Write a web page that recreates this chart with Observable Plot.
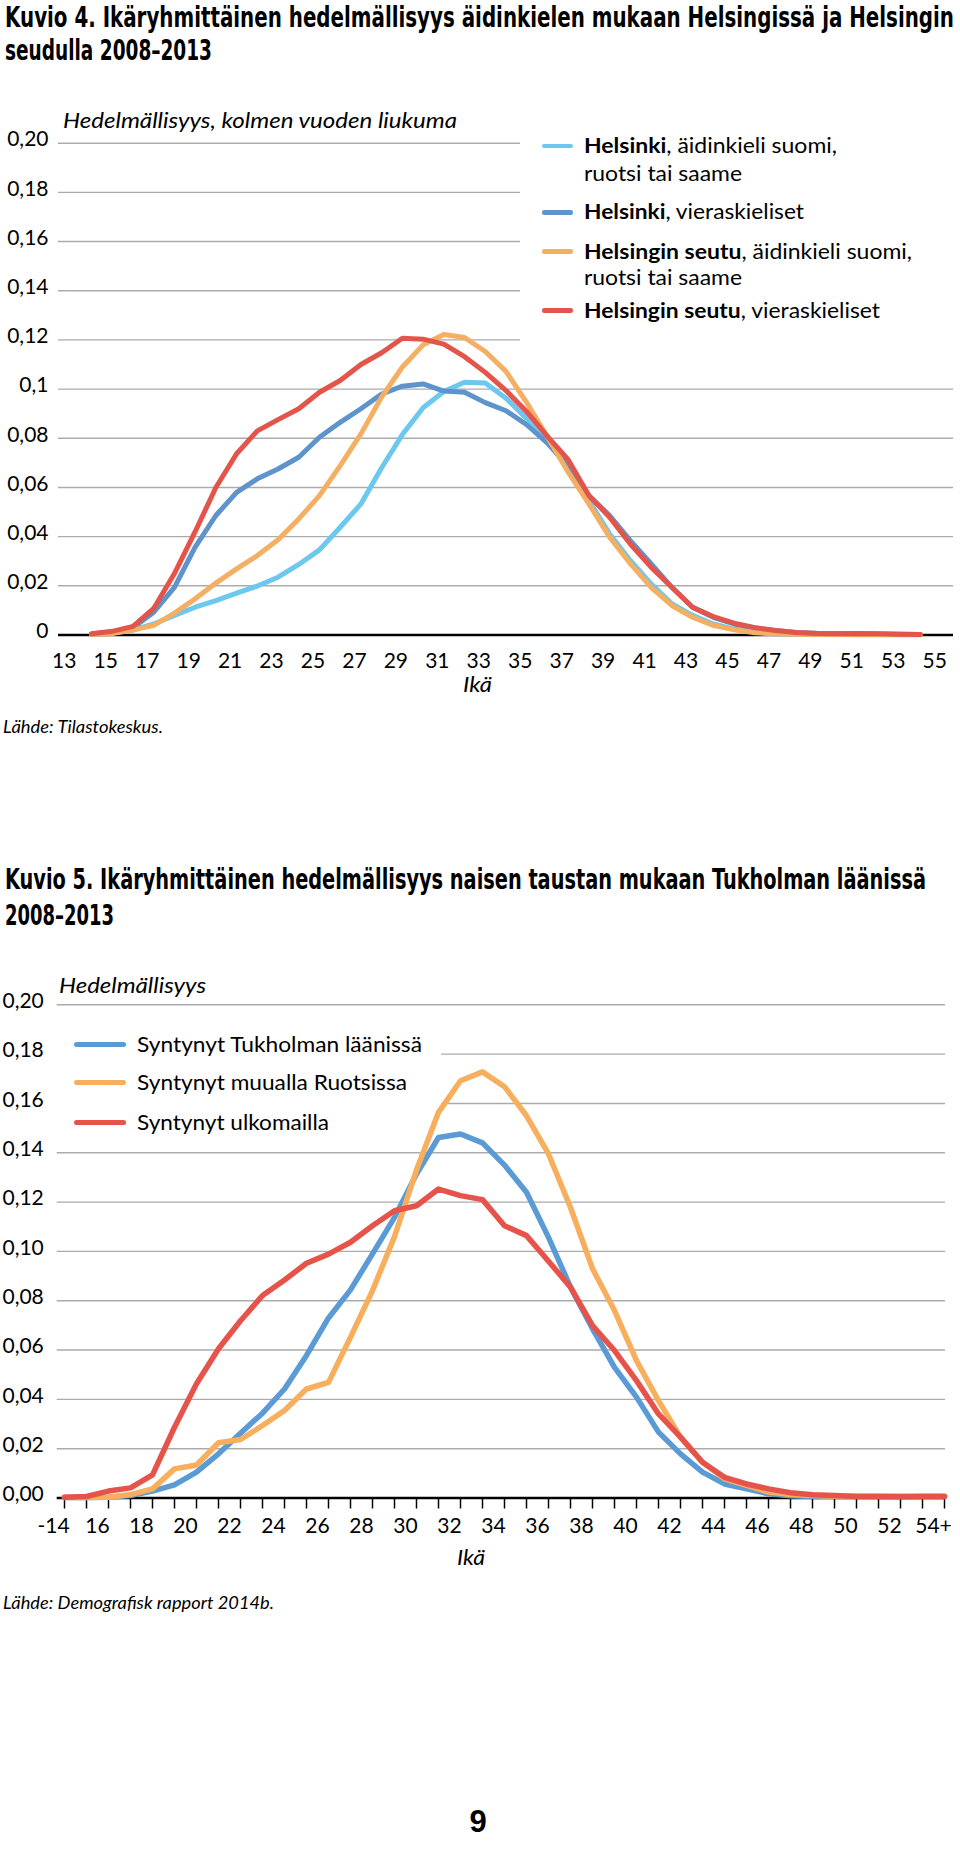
<!DOCTYPE html>
<html>
<head>
<meta charset="utf-8">
<script src="https://cdn.jsdelivr.net/npm/d3@7"></script>
<script src="https://cdn.jsdelivr.net/npm/@observablehq/plot@0.6"></script>
<style>
  html, body { margin: 0; padding: 0; background: #fff; }
  #page { position: relative; width: 960px; height: 1854px; overflow: hidden; background: #fff; }
  .layer { position: absolute; left: 0; }
</style>
</head>
<body>
<div id="page"></div>
<script>
// ---------------- DATA: Kuvio 4 ----------------
const ages1 = [14,15,16,17,18,19,20,21,22,23,24,25,26,27,28,29,30,31,32,33,34,35,36,37,38,39,40,41,42,43,44,45,46,47,48,49,50,51,52,53,54];
const helsinkiNative = [0.0003,0.0008,0.002,0.0045,0.008,0.0113,0.014,0.017,0.0199,0.0235,0.0287,0.0346,0.0438,0.0533,0.068,0.0815,0.0924,0.099,0.1028,0.1025,0.0963,0.088,0.080,0.068,0.0547,0.0411,0.0303,0.0208,0.0127,0.008,0.0045,0.0024,0.0013,0.0006,0.0003,0.0002,0.0002,0.0001,0.0001,0.0001,0.0001];
const helsinkiForeign = [0.0004,0.0012,0.003,0.0093,0.0194,0.0357,0.0486,0.058,0.0635,0.0675,0.0723,0.0804,0.0865,0.092,0.098,0.1012,0.1021,0.0992,0.0987,0.0945,0.0912,0.0855,0.078,0.0686,0.0567,0.0486,0.0384,0.029,0.0194,0.0113,0.0072,0.0045,0.003,0.0018,0.001,0.0007,0.0006,0.0005,0.0004,0.0003,0.0002];
const regionNative = [0.0002,0.0006,0.002,0.0039,0.0089,0.0147,0.0211,0.0269,0.0323,0.0387,0.0472,0.0567,0.0689,0.0818,0.0968,0.109,0.118,0.1222,0.121,0.1153,0.1072,0.0945,0.0805,0.0662,0.0533,0.0398,0.029,0.0194,0.012,0.0072,0.0039,0.0021,0.0009,0.0005,0.0003,0.0002,0.0002,0.0002,0.0002,0.0002,0.0002];
const regionForeign = [0.0005,0.0015,0.0035,0.0108,0.025,0.042,0.060,0.0737,0.083,0.0876,0.092,0.0987,0.1035,0.110,0.1148,0.1207,0.1203,0.1183,0.1132,0.1068,0.0994,0.0908,0.0808,0.0713,0.0567,0.0479,0.037,0.0276,0.0194,0.0113,0.0075,0.0048,0.003,0.0018,0.001,0.0006,0.0005,0.0006,0.0005,0.0003,0.0002];
const series1Names = ["Helsinki, äidinkieli suomi, ruotsi tai saame","Helsinki, vieraskieliset","Helsingin seutu, äidinkieli suomi, ruotsi tai saame","Helsingin seutu, vieraskieliset"];
const series1Colors = ["#6CC8EF","#5E93CB","#F5AF62","#E3544B"];
const y1Ticks = [0,0.02,0.04,0.06,0.08,0.1,0.12,0.14,0.16,0.18,0.2];
const y1Labels = ["0","0,02","0,04","0,06","0,08","0,1","0,12","0,14","0,16","0,18","0,20"];
const x1Ticks = [13,15,17,19,21,23,25,27,29,31,33,35,37,39,41,43,45,47,49,51,53,55];

// ---------------- DATA: Kuvio 5 ----------------
const ages2 = [14,15,16,17,18,19,20,21,22,23,24,25,26,27,28,29,30,31,32,33,34,35,36,37,38,39,40,41,42,43,44,45,46,47,48,49,50,51,52,53,54];
const bornStockholm = [0.0002,0.0002,0.0003,0.001,0.0028,0.0053,0.0105,0.0179,0.0263,0.0344,0.0442,0.0578,0.073,0.0844,0.099,0.1138,0.1314,0.1462,0.1476,0.144,0.135,0.124,0.1057,0.0855,0.0686,0.053,0.0409,0.0267,0.0179,0.0105,0.0057,0.0037,0.0017,0.0009,0.0006,0.0006,0.0006,0.0006,0.0006,0.0006,0.0006];
const bornSweden = [0.0002,0.0002,0.0003,0.0014,0.0037,0.0118,0.0134,0.0224,0.0237,0.0294,0.0355,0.0442,0.0469,0.0652,0.0841,0.106,0.133,0.1564,0.1692,0.1728,0.1668,0.155,0.1395,0.1178,0.093,0.076,0.0557,0.0395,0.0247,0.0145,0.0078,0.0051,0.0024,0.0014,0.001,0.0007,0.0007,0.0007,0.0007,0.0007,0.0007];
const bornAbroad = [0.0003,0.0006,0.0028,0.0041,0.0094,0.0287,0.0463,0.0605,0.0719,0.0821,0.0884,0.0952,0.0989,0.1037,0.1104,0.1165,0.1185,0.1253,0.1226,0.121,0.1104,0.1064,0.096,0.0855,0.0699,0.0598,0.0476,0.0341,0.0247,0.0145,0.0084,0.0057,0.0037,0.0021,0.0013,0.001,0.0006,0.0006,0.0005,0.0006,0.0006];
const series2Names = ["Syntynyt Tukholman läänissä","Syntynyt muualla Ruotsissa","Syntynyt ulkomailla"];
const series2Colors = ["#5B9BD5","#F7AF5E","#E6534A"];
const y2Ticks = [0,0.02,0.04,0.06,0.08,0.1,0.12,0.14,0.16,0.18,0.2];
const y2Labels = ["0,00","0,02","0,04","0,06","0,08","0,10","0,12","0,14","0,16","0,18","0,20"];
const x2LabelTicks = [14,16,18,20,22,24,26,28,30,32,34,36,38,40,42,44,46,48,50,52,54];
const x2Labels = ["-14","16","18","20","22","24","26","28","30","32","34","36","38","40","42","44","46","48","50","52","54+"];

// ---------------- build tables ----------------
const rows1 = [];
[helsinkiNative, helsinkiForeign, regionNative, regionForeign].forEach((arr, k) =>
  arr.forEach((v, i) => rows1.push({s: series1Names[k], age: ages1[i], v})));
const rows2 = [];
[bornStockholm, bornSweden, bornAbroad].forEach((arr, k) =>
  arr.forEach((v, i) => rows2.push({s: series2Names[k], age: ages2[i], v})));
const lab1 = new Map(y1Ticks.map((t, i) => [t, y1Labels[i]]));
const lab2 = new Map(y2Ticks.map((t, i) => [t, y2Labels[i]]));
const labX2 = new Map(x2LabelTicks.map((t, i) => [t, x2Labels[i]]));

const page = document.getElementById("page");
const FONT = "Lato, 'Open Sans', sans-serif";

function addLayer(svg, top, z) {
  svg.classList.add("layer");
  svg.style.top = top + "px";
  svg.style.zIndex = z;
  page.appendChild(svg);
}

// ---------------- Chart 1 ----------------
const c1 = {width: 960, height: 600, marginTop: 42.7, marginBottom: 65.5, marginLeft: 58, marginRight: 7};
const x1 = {type: "linear", domain: [13, 55], range: [70.3, 940.7]};
const yS1 = {domain: [0, 0.2], range: [534.5, 42.7]};

const grid1 = Plot.plot({
  ...c1, x: {...x1, axis: null}, y: {...yS1, axis: null},
  style: {background: "white", fontFamily: FONT},
  marks: [Plot.ruleY(y1Ticks.filter(t => t > 0), {stroke: "#ABABAB", strokeWidth: 1.4})]
});
addLayer(grid1, 100, 1);

const main1 = Plot.plot({
  ...c1, x: x1, y: yS1,
  color: {domain: series1Names, range: series1Colors},
  style: {background: "transparent", fontFamily: FONT, fontSize: "21px", color: "#000"},
  marks: [
    Plot.axisY({ticks: y1Ticks, tickFormat: d => lab1.get(d), tickSize: 0, tickPadding: 10, fontSize: 21, dy: -3.5, label: null}),
    Plot.axisX({ticks: x1Ticks, tickFormat: d => String(d), tickSize: 0, tickPadding: 18.5, fontSize: 21, dx: -6.5, label: null}),
    Plot.ruleY([0], {stroke: "#000", strokeWidth: 2.3}),
    Plot.line(rows1, {x: "age", y: "v", z: "s", stroke: "s", strokeWidth: 5, strokeLinecap: "round", strokeLinejoin: "round"})
  ]
});
addLayer(main1, 100, 3);

// ---------------- Chart 2 ----------------
const c2 = {width: 960, height: 600, marginTop: 44.3, marginBottom: 62.5, marginLeft: 56.7, marginRight: 15};
const x2 = {type: "linear", domain: [14, 54], range: [64, 944]};
const yS2 = {domain: [0, 0.2], range: [537.5, 44.3]};

const grid2 = Plot.plot({
  ...c2, x: {...x2, axis: null}, y: {...yS2, axis: null},
  style: {background: "white", fontFamily: FONT},
  marks: [Plot.ruleY(y2Ticks.filter(t => t > 0), {stroke: "#ABABAB", strokeWidth: 1.4})]
});
addLayer(grid2, 960, 1);

const main2 = Plot.plot({
  ...c2, x: x2, y: yS2,
  color: {domain: series2Names, range: series2Colors},
  style: {background: "transparent", fontFamily: FONT, fontSize: "21px", color: "#000"},
  marks: [
    Plot.axisY({ticks: y2Ticks, tickFormat: d => lab2.get(d), tickSize: 0, tickPadding: 13.4, fontSize: 21, dy: -3.5, label: null}),
    Plot.axisX({ticks: ages2, tickFormat: () => "", tickSize: 11, stroke: "#000", strokeWidth: 1.5, label: null}),
    Plot.axisX({ticks: x2LabelTicks, tickFormat: d => labX2.get(d), tickSize: 0, tickPadding: 20.5, fontSize: 21, dx: -11, label: null}),
    Plot.ruleY([0], {stroke: "#000", strokeWidth: 2.3}),
    Plot.line(rows2, {x: "age", y: "v", z: "s", stroke: "s", strokeWidth: 5.5, strokeLinecap: "round", strokeLinejoin: "round"})
  ]
});
addLayer(main2, 960, 3);

// ---------------- legend masks (between grid and lines) ----------------
function mask(left, top, w, h) {
  const d = document.createElement("div");
  Object.assign(d.style, {position: "absolute", left: left + "px", top: top + "px", width: w + "px", height: h + "px", background: "#fff", zIndex: 2});
  page.appendChild(d);
}
mask(520, 132, 440, 215);
mask(50, 1022, 391, 118);

function swatch(x0, x1_, cy, h, color) {
  const d = document.createElement("div");
  Object.assign(d.style, {position: "absolute", left: x0 + "px", top: (cy - h / 2) + "px", width: (x1_ - x0) + "px", height: h + "px", background: color, borderRadius: (h / 2) + "px", zIndex: 4});
  page.appendChild(d);
}

// ---------------- text helper (baseline-positioned, width-fitted) ----------------
function put(html, o) {
  const d = document.createElement("div");
  Object.assign(d.style, {
    position: "absolute", left: "0px", top: "0px", whiteSpace: "nowrap",
    fontFamily: o.font || FONT, fontSize: o.size + "px",
    fontWeight: o.weight || "normal", fontStyle: o.italic ? "italic" : "normal",
    lineHeight: o.lh || "1.2", color: "#000", zIndex: 5
  });
  d.innerHTML = html;
  const m = document.createElement("span");
  Object.assign(m.style, {display: "inline-block", width: "0px", height: "0px"});
  d.appendChild(m);
  page.appendChild(d);
  const r = d.getBoundingClientRect();
  const w = r.width;
  const bl = m.getBoundingClientRect().top - r.top;
  const sx = o.width ? o.width / w : 1;
  let left = o.x;
  if (o.anchor === "middle") left = o.x - (w * sx) / 2;
  d.style.left = left + "px";
  d.style.top = (o.baseline - bl) + "px";
  if (sx !== 1) { d.style.transformOrigin = "0 0"; d.style.transform = `scaleX(${sx})`; }
  return d;
}

const TITLE = "'Liberation Sans Narrow', 'Arial Narrow', 'DejaVu Sans Condensed', sans-serif";

// Chart 1 texts
put("Kuvio 4. Ikäryhmittäinen hedelmällisyys äidinkielen mukaan Helsingissä ja Helsingin", {x: 5, baseline: 27, size: 29, weight: "bold", font: TITLE, width: 949, lh: "1"});
put("seudulla 2008–2013", {x: 5, baseline: 60, size: 29, weight: "bold", font: TITLE, width: 207, lh: "1"});
put("Hedelmällisyys, kolmen vuoden liukuma", {x: 63, baseline: 128, size: 21, italic: true, width: 394});

swatch(541.7, 572.7, 146, 4.5, series1Colors[0]);
swatch(541.7, 572.7, 212.7, 4.5, series1Colors[1]);
swatch(541.7, 572.7, 251.7, 4.5, series1Colors[2]);
swatch(541.7, 572.7, 310.7, 4.5, series1Colors[3]);
put("<b>Helsinki</b>, äidinkieli suomi,", {x: 584, baseline: 153, size: 21, width: 253});
put("ruotsi tai saame", {x: 584, baseline: 180.7, size: 21, width: 158});
put("<b>Helsinki</b>, vieraskieliset", {x: 584, baseline: 219, size: 21, width: 220});
put("<b>Helsingin seutu</b>, äidinkieli suomi,", {x: 584, baseline: 259, size: 21, width: 328});
put("ruotsi tai saame", {x: 584, baseline: 285, size: 21, width: 158});
put("<b>Helsingin seutu</b>, vieraskieliset", {x: 584, baseline: 318, size: 21, width: 296});

put("Ikä", {x: 463, baseline: 691.7, size: 21, italic: true, width: 29});
put("Lähde: Tilastokeskus.", {x: 3, baseline: 733, size: 17, italic: true, width: 160});

// Chart 2 texts
put("Kuvio 5. Ikäryhmittäinen hedelmällisyys naisen taustan mukaan Tukholman läänissä", {x: 5, baseline: 889, size: 29, weight: "bold", font: TITLE, width: 921, lh: "1"});
put("2008–2013", {x: 5, baseline: 925, size: 29, weight: "bold", font: TITLE, width: 109, lh: "1"});
put("Hedelmällisyys", {x: 59, baseline: 993, size: 21, italic: true, width: 147});

swatch(74, 126, 1044.3, 5.5, series2Colors[0]);
swatch(74, 126, 1082.7, 5.5, series2Colors[1]);
swatch(74, 126, 1122.7, 5.5, series2Colors[2]);
put("Syntynyt Tukholman läänissä", {x: 136.7, baseline: 1051.7, size: 22, width: 285});
put("Syntynyt muualla Ruotsissa", {x: 136.7, baseline: 1090, size: 22, width: 270});
put("Syntynyt ulkomailla", {x: 136.7, baseline: 1130, size: 22, width: 192});

put("Ikä", {x: 457, baseline: 1565, size: 21, italic: true, width: 28});
put("Lähde: Demografisk rapport 2014b.", {x: 3, baseline: 1609, size: 17, italic: true, width: 271});

put("9", {x: 478, baseline: 1832, size: 31, weight: "bold", font: "'Liberation Sans', Arial, sans-serif", anchor: "middle"});
</script>
</body>
</html>
